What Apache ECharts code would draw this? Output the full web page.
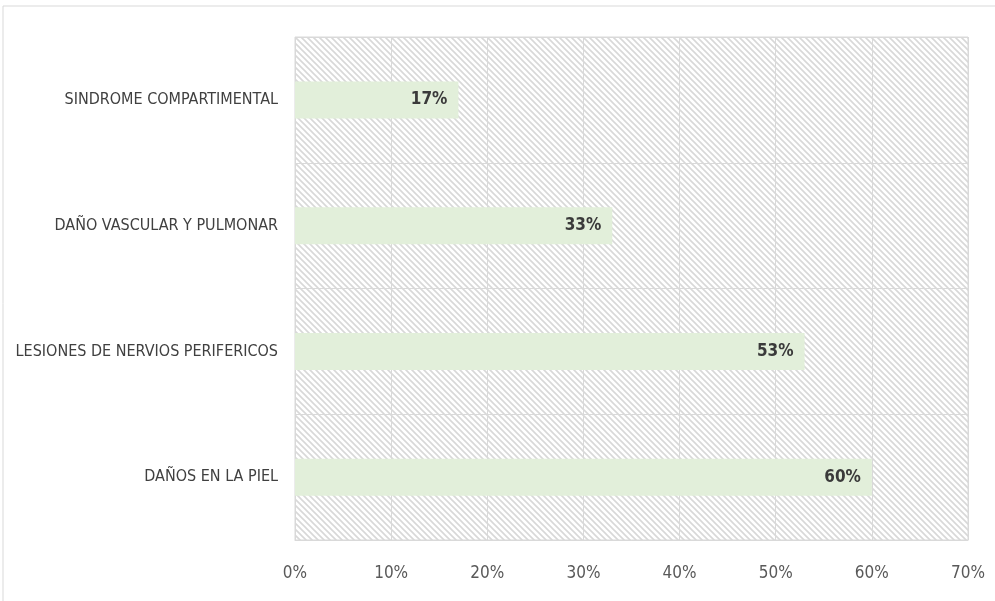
<!DOCTYPE html>
<html><head><meta charset="utf-8">
<script src="https://cdn.jsdelivr.net/npm/echarts@6/dist/echarts.min.js"></script>
<style>html,body{margin:0;padding:0;background:#fff}#c{width:995px;height:601px}</style>
</head><body><div id="c"></div>
<script>
const categories = ['SINDROME COMPARTIMENTAL', 'DAÑO VASCULAR Y PULMONAR', 'LESIONES DE NERVIOS PERIFERICOS', 'DAÑOS EN LA PIEL'];
const values = [17, 33, 53, 60];
const tickMax = 70;

const T = 6;
const tile = document.createElement('canvas');
tile.width = T; tile.height = T;
const g = tile.getContext('2d');
g.strokeStyle = '#d8d8d8'; g.lineWidth = 1.6;
g.beginPath();
for (let k = -T; k <= T; k += T) { g.moveTo(k - 2, -2); g.lineTo(k + T + 2, T + 2); }
g.stroke();

const font = '"DejaVu Sans Condensed", "Liberation Sans Narrow", sans-serif';
const chart = echarts.init(document.getElementById('c'));
chart.setOption({
  animation: false,
  graphic: [{type: 'polyline', shape: {points: [[3, 601], [3, 6], [995, 6]]}, style: {stroke: '#d9d9d9', lineWidth: 1, fill: null}}],
  grid: {left: 295, right: 27, top: 37, bottom: 61, outerBoundsMode: 'none', containLabel: false, show: true, backgroundColor: {image: tile, repeat: 'repeat'}, borderColor: '#d9d9d9', borderWidth: 1},
  xAxis: {type: 'value', min: 0, max: tickMax, interval: 10,
    axisLabel: {formatter: '{value}%', color: '#595959', fontSize: 17, fontFamily: font, margin: 25},
    axisLine: {show: true, lineStyle: {color: '#d9d9d9'}}, axisTick: {show: false},
    splitLine: {show: true, lineStyle: {color: '#d9d9d9'}}},
  yAxis: {type: 'category', data: categories, inverse: true,
    axisLabel: {color: '#404040', fontSize: 16, fontFamily: font, margin: 17},
    axisLine: {show: false}, axisTick: {show: false},
    splitLine: {show: true, lineStyle: {color: '#d9d9d9'}}},
  series: [{type: 'bar', data: values, barWidth: 37,
    itemStyle: {color: '#e2efda'},
    label: {show: true, position: 'insideRight', formatter: '{c}%', color: '#3a3a3a', fontWeight: 'bold', fontSize: 17, fontFamily: font, distance: 11}}]
});
</script></body></html>
